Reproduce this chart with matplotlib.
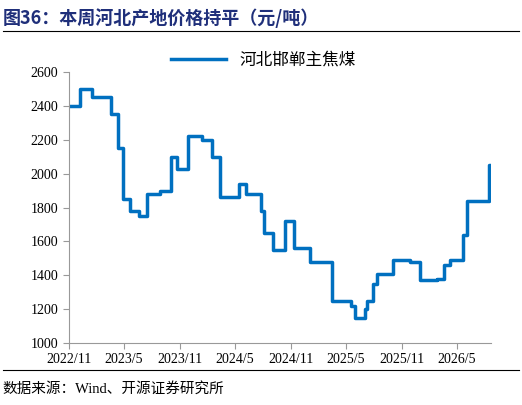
import matplotlib
matplotlib.use("Agg")
import matplotlib.pyplot as plt
import pandas as pd
from matplotlib.lines import Line2D

dates = ["2022-11-01","2022-12-09","2023-01-15","2023-03-20","2023-04-12","2023-04-29",
         "2023-05-20","2023-06-19","2023-07-15","2023-08-28","2023-10-03","2023-10-24",
         "2023-11-28","2024-01-13","2024-02-15","2024-03-12","2024-05-15","2024-06-06",
         "2024-07-25","2024-08-05","2024-09-02","2024-10-13","2024-11-10","2025-01-01",
         "2025-03-15","2025-05-18","2025-06-01","2025-07-03","2025-07-08","2025-07-28",
         "2025-08-12","2025-10-03","2025-11-28","2026-01-01","2026-02-24","2026-03-18",
         "2026-04-10","2026-05-20","2026-06-03","2026-08-14","2026-08-22"]
prices = [2400,2500,2450,2350,2150,1850,1780,1750,1880,1900,2100,2030,2220,2200,2100,
          1860,1940,1880,1780,1650,1550,1720,1560,1480,1250,1220,1150,1200,1250,1350,
          1410,1490,1480,1370,1380,1460,1490,1640,1840,2050,2050]
tick_labels = ["2022/11","2023/5","2023/11","2024/5","2024/11","2025/5","2025/11","2026/5"]
tick_dates = ["2022-11-01","2023-05-01","2023-11-01","2024-05-01","2024-11-01","2025-05-01","2025-11-01","2026-05-01"]

cjk = ["Noto Sans CJK SC", "DejaVu Sans"]
serif = ["Liberation Serif", "Noto Sans CJK SC"]
fig = plt.figure(figsize=(5.22, 4.05), dpi=100)
ax = fig.add_axes([0.132, 0.153, 0.809, 0.669])
x = pd.to_datetime(dates)
ax.plot(x, prices, drawstyle="steps-post", color="#0070C0", lw=2.5)
ax.set_ylim(1000, 2600)
ax.set_yticks(range(1000, 2601, 200))
ax.set_xlim(pd.Timestamp("2022-11-01"), pd.Timestamp("2026-08-22"))
ax.set_xticks(pd.to_datetime(tick_dates))
ax.set_xticklabels(tick_labels, family=serif, fontsize=10)
for t in ax.get_yticklabels():
    t.set_family(serif); t.set_fontsize(10)
for s in ["top", "right"]:
    ax.spines[s].set_visible(False)
for s in ["left", "bottom"]:
    ax.spines[s].set_color("#999999")
ax.tick_params(colors="black", length=4, color="#999999")
ax.legend([Line2D([0],[0], color="#0070C0", lw=2.5)], ["河北邯郸主焦煤"],
          loc="upper center", bbox_to_anchor=(0.46, 1.13), frameon=False,
          prop={"family": cjk, "size": 12}, handlelength=3.3)
fig.text(0.005, 0.955, "图36：本周河北产地价格持平（元/吨）", family=cjk, fontsize=13,
         fontweight="bold", color="#1F2F7A", va="center")
fig.add_artist(Line2D([0.005, 0.995], [0.923, 0.923], color="black", lw=0.8))
fig.add_artist(Line2D([0.005, 0.995], [0.087, 0.087], color="black", lw=0.8))
fig.text(0.005, 0.04, "数据来源：Wind、开源证券研究所", family=serif, fontsize=10.5, va="center")
fig.savefig("out.png", dpi=100)
